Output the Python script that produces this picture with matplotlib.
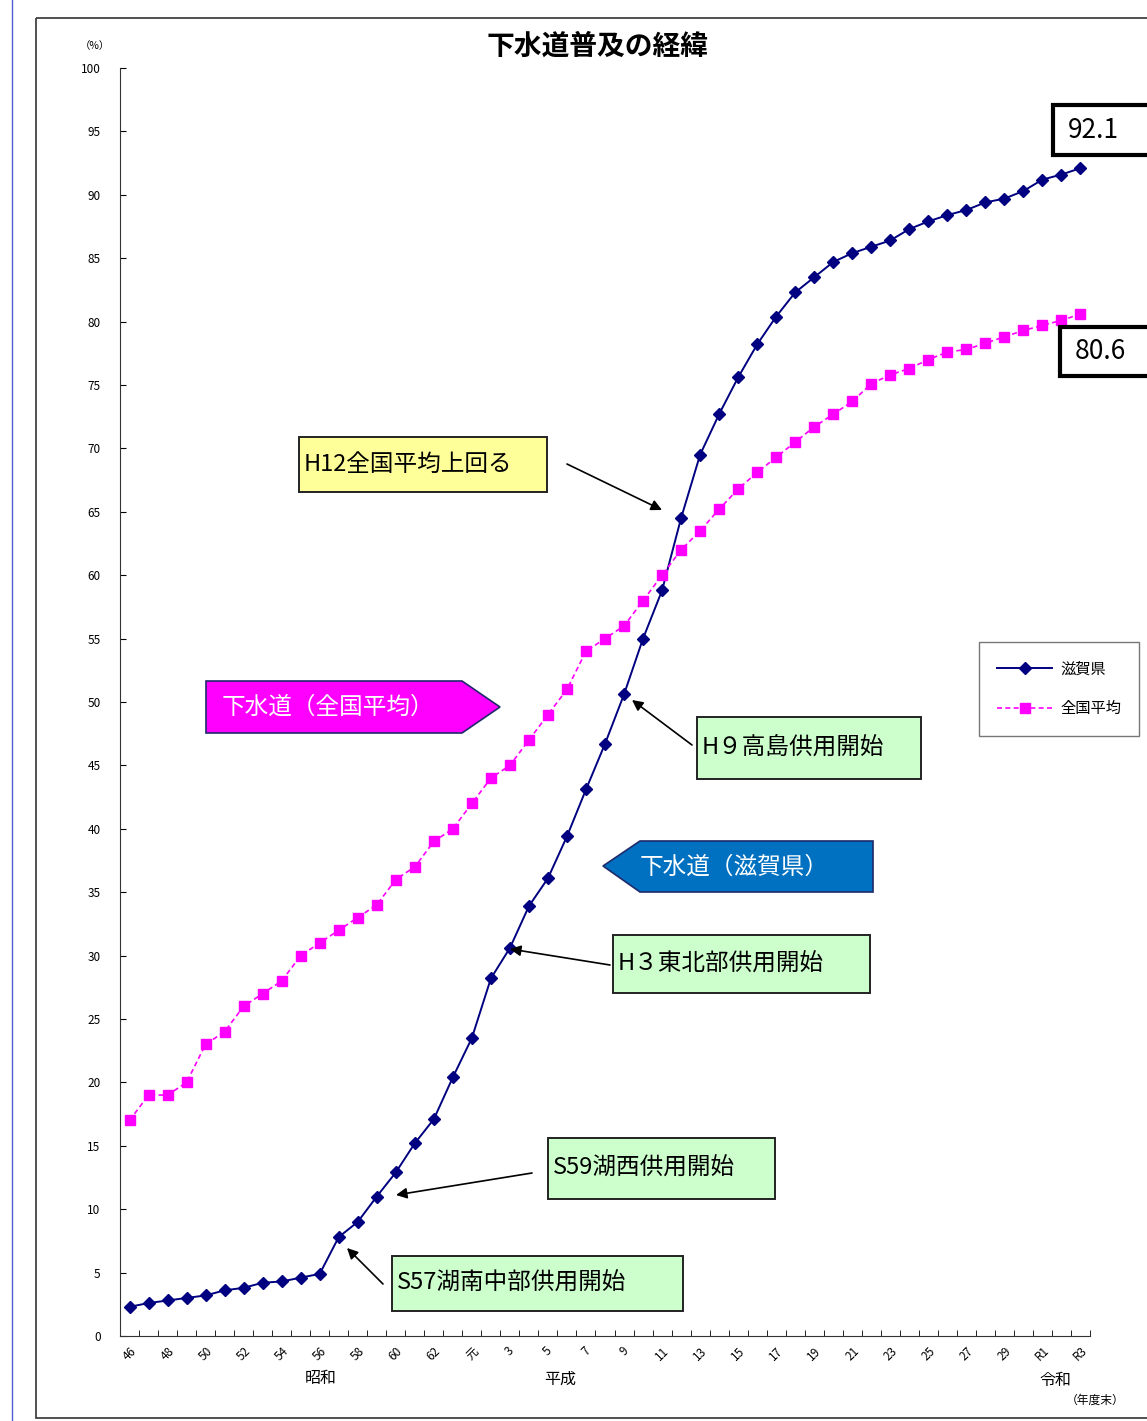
import matplotlib
matplotlib.use("Agg")
import matplotlib.pyplot as plt
from matplotlib.patches import Rectangle, Polygon

plt.rcParams["font.family"] = ["Noto Sans CJK JP", "DejaVu Sans"]

W, H = 1147, 1421

# fiscal years S46 (1971) .. R3 (2021)
years = list(range(1971, 2022))
tick_labels = ["46", "48", "50", "52", "54", "56", "58", "60", "62", "元",
               "3", "5", "7", "9", "11", "13", "15", "17", "19", "21",
               "23", "25", "27", "29", "R1", "R3"]

shiga = [2.3, 2.6, 2.8, 3.0, 3.2, 3.6, 3.8, 4.2, 4.3, 4.6,
         4.9, 7.8, 9.0, 11.0, 12.9, 15.2, 17.1, 20.4, 23.5, 28.2,
         30.6, 33.9, 36.1, 39.4, 43.1, 46.7, 50.6, 55.0, 58.8, 64.5,
         69.5, 72.7, 75.6, 78.2, 80.4, 82.3, 83.5, 84.7, 85.4, 85.9,
         86.4, 87.3, 87.9, 88.4, 88.8, 89.4, 89.7, 90.3, 91.2, 91.6,
         92.1]
national = [17.0, 19.0, 19.0, 20.0, 23.0, 24.0, 26.0, 27.0, 28.0, 30.0,
            31.0, 32.0, 33.0, 34.0, 36.0, 37.0, 39.0, 40.0, 42.0, 44.0,
            45.0, 47.0, 49.0, 51.0, 54.0, 55.0, 56.0, 58.0, 60.0, 62.0,
            63.5, 65.2, 66.8, 68.1, 69.3, 70.5, 71.7, 72.7, 73.7, 75.1,
            75.8, 76.3, 77.0, 77.6, 77.8, 78.3, 78.8, 79.3, 79.7, 80.1,
            80.6]


def px(x, y, w, h):
    # pixel box (from top-left) -> figure fraction rect
    return [x / W, 1 - (y + h) / H, w / W, h / H]


fig = plt.figure(figsize=(W / 100, H / 100), dpi=100)

ax = fig.add_axes(px(120, 68, 970, 1268))
idx = list(range(len(years)))
l1, = ax.plot(idx, shiga, color="#000080", lw=1.4, marker="D", ms=6.5,
              label="滋賀県")
l2, = ax.plot(idx, national, color="#FF00FF", lw=1.2, ls=(0, (3, 2)),
              marker="s", ms=7.5, label="全国平均")

ax.set_xlim(-0.5, len(years) - 0.5)
ax.set_ylim(0, 100)
ax.set_yticks(range(0, 101, 5))
ax.tick_params(axis="y", direction="in", length=4, labelsize=8.5, pad=14)
ax.set_xticks(idx[::2])
ax.set_xticklabels(tick_labels, rotation=45, ha="center", va="top", fontsize=8.5)
ax.set_xticks([i - 0.5 for i in range(len(years) + 1)], minor=True)
ax.tick_params(axis="x", which="major", length=0, pad=6)
ax.tick_params(axis="x", which="minor", direction="in", length=4)
for s in ["top", "right"]:
    ax.spines[s].set_visible(False)
for s in ["left", "bottom"]:
    ax.spines[s].set_color("#333333")

# overlay in pixel coordinates for frame, boxes and notes
ov = fig.add_axes([0, 0, 1, 1], facecolor="none")
ov.set_xlim(0, W)
ov.set_ylim(H, 0)
ov.axis("off")

ov.plot([12, 12], [0, H], color="#4D5FD0", lw=1)
ov.add_patch(Rectangle((36, 18), W, 1400, fill=False, ec="#333333", lw=1.2))

ov.text(598, 47, "下水道普及の経緯", ha="center", va="center", fontsize=20,
        fontweight="bold")
ov.text(95, 46, "（%）", ha="center", va="center", fontsize=7.5)
ov.text(321, 1378, "昭和", ha="center", va="center", fontsize=11.5)
ov.text(560, 1379, "平成", ha="center", va="center", fontsize=11.5)
ov.text(1055, 1380, "令和", ha="center", va="center", fontsize=11.5)
ov.text(1095, 1400, "（年度末）", ha="center", va="center", fontsize=8.5)

# legend
leg = ax.legend(handles=[l1, l2], loc="upper left",
                bbox_to_anchor=(979 / W, 1 - 642 / H),
                bbox_transform=fig.transFigure, frameon=True, fancybox=False,
                edgecolor="#555555", fontsize=11, handlelength=3.6,
                borderpad=1.2, labelspacing=1.5, handletextpad=0.5,
                borderaxespad=0)
leg.get_frame().set_linewidth(1)

# note boxes: (text, x, y, w, h, face, arrow_from, arrow_to)
notes = [
    ("H12全国平均上回る", 299, 437, 248, 55, "#FFFF99", (567, 464), (662, 510)),
    ("H９高島供用開始", 697, 717, 224, 62, "#CCFFCC", (692, 745), (632, 700)),
    ("H３東北部供用開始", 613, 935, 257, 58, "#CCFFCC", (610, 965), (510, 949)),
    ("S59湖西供用開始", 548, 1138, 227, 61, "#CCFFCC", (532, 1173), (396, 1195)),
    ("S57湖南中部供用開始", 392, 1256, 291, 55, "#CCFFCC", (383, 1284), (347, 1248)),
]
for txt, x, y, w, h, fc, a0, a1 in notes:
    ov.add_patch(Rectangle((x, y), w, h, fc=fc, ec="#222222", lw=1.4))
    ov.text(x + 5, y + h / 2, txt, ha="left", va="center", fontsize=17)
    ov.annotate("", xy=a1, xytext=a0,
                arrowprops=dict(arrowstyle="-|>", color="black", lw=1.2,
                                mutation_scale=16, shrinkA=0, shrinkB=0))

# series name arrows
ov.add_patch(Polygon([(206, 681), (462, 681), (500, 707), (462, 733), (206, 733)],
                     closed=True, fc="#FF00FF", ec="#1F2A6B", lw=1.2))
ov.text(222, 707, "下水道（全国平均）", ha="left", va="center", fontsize=17,
        color="white")
ov.add_patch(Polygon([(603, 866), (640, 841), (873, 841), (873, 892), (640, 892)],
                     closed=True, fc="#0070C0", ec="#1F2A6B", lw=1.2))
ov.text(640, 867, "下水道（滋賀県）", ha="left", va="center", fontsize=17,
        color="white")

# end values
for txt, x, y, h in [("92.1", 1053, 105, 50), ("80.6", 1060, 327, 49)]:
    ov.add_patch(Rectangle((x, y), 120, h, fc="white", ec="black", lw=3))
    ov.text(x + 15, y + h / 2, txt, ha="left", va="center", fontsize=19)

fig.savefig("out.png", dpi=100)
